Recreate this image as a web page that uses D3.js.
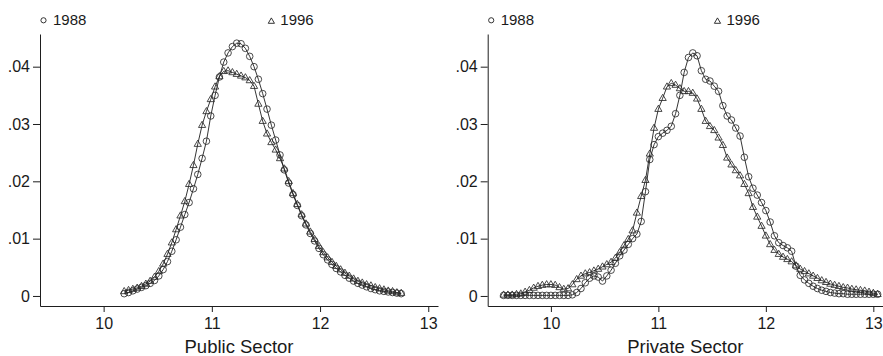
<!DOCTYPE html>
<html><head><meta charset="utf-8">
<script src="https://cdn.jsdelivr.net/npm/d3@7"></script>
<style>
body{margin:0;background:#fff}
svg{display:block}
text{font-family:"Liberation Sans",Arial,Helvetica,sans-serif;fill:#1a1a1a}
</style>
</head><body>
<svg id="chart" width="883" height="356"></svg>
<script>
// ---- data (kernel density of log earnings) ----
const yTickValues = [0, 0.01, 0.02, 0.03, 0.04];
const yTickLabels = ["0", ".01", ".02", ".03", ".04"];
const xTickValues = [10, 11, 12, 13];
const xTickLabels = ["10", "11", "12", "13"];
const seriesNames = ["1988", "1996"];
const panelTitles = ["Public Sector", "Private Sector"];

const publicX = [10.19,10.23,10.27,10.31,10.35,10.39,10.43,10.47,10.51,10.55,10.59,10.63,10.67,10.71,10.75,10.79,10.83,10.87,10.91,10.95,10.99,11.03,11.07,11.11,11.15,11.19,11.23,11.27,11.31,11.35,11.39,11.43,11.47,11.51,11.55,11.59,11.63,11.67,11.71,11.75,11.79,11.83,11.87,11.91,11.95,11.99,12.03,12.07,12.11,12.15,12.19,12.23,12.27,12.31,12.35,12.39,12.43,12.47,12.51,12.55,12.59,12.63,12.67,12.71,12.75];
const public1988 = [.0004,.0006,.0009,.0012,.0015,.0018,.0022,.0027,.0035,.0046,.0060,.0078,.0098,.0120,.0142,.0163,.0187,.0212,.0240,.0270,.0314,.0350,.0382,.0408,.0424,.0435,.0441,.0440,.0432,.0418,.0400,.0378,.0353,.0326,.0298,.0272,.0246,.0220,.0197,.0177,.0158,.0140,.0124,.0109,.0096,.0083,.0072,.0063,.0055,.0048,.0042,.0036,.0031,.0026,.0022,.0019,.0016,.0013,.0011,.0009,.0008,.0007,.0006,.0005,.0004];
const public1996 = [.0008,.0010,.0012,.0014,.0017,.0021,.0026,.0033,.0043,.0056,.0073,.0093,.0116,.0140,.0165,.0195,.0228,.0265,.0298,.0322,.0343,.0365,.0383,.0392,.0393,.0390,.0387,.0384,.0381,.0376,.0366,.0335,.0305,.0283,.0268,.0255,.0240,.0222,.0200,.0179,.0160,.0142,.0126,.0112,.0099,.0087,.0076,.0067,.0059,.0052,.0046,.0040,.0035,.0030,.0026,.0023,.0020,.0018,.0015,.0013,.0011,.0009,.0008,.0006,.0005];

const privateX = [9.56,9.60,9.64,9.68,9.72,9.76,9.80,9.84,9.88,9.92,9.96,10.00,10.04,10.08,10.12,10.16,10.20,10.24,10.28,10.32,10.36,10.40,10.44,10.48,10.52,10.56,10.60,10.64,10.68,10.72,10.76,10.80,10.84,10.88,10.92,10.96,11.00,11.04,11.08,11.12,11.16,11.20,11.24,11.28,11.32,11.36,11.40,11.44,11.48,11.52,11.56,11.60,11.64,11.68,11.72,11.76,11.80,11.84,11.88,11.92,11.96,12.00,12.04,12.08,12.12,12.16,12.20,12.24,12.28,12.32,12.36,12.40,12.44,12.48,12.52,12.56,12.60,12.64,12.68,12.72,12.76,12.80,12.84,12.88,12.92,12.96,13.00,13.04];
const private1988 = [.0001,.0001,.0001,.0001,.0001,.0001,.0001,.0001,.0001,.0001,.0001,.0001,.0001,.0001,.0001,.0001,.0002,.0006,.0013,.0023,.0031,.0035,.0033,.0026,.0035,.0045,.0057,.0070,.0080,.0090,.0100,.0108,.0130,.0182,.0238,.0264,.0278,.0284,.0289,.0296,.0318,.0350,.0390,.0416,.0424,.0419,.0393,.0378,.0375,.0366,.0357,.0332,.0314,.0307,.0293,.0279,.0242,.0208,.0188,.0176,.0163,.0149,.0129,.0105,.0093,.0088,.0084,.0078,.0052,.0036,.0028,.0022,.0017,.0013,.0010,.0008,.0006,.0005,.0004,.0004,.0003,.0003,.0003,.0003,.0003,.0003,.0003,.0003];
const private1996 = [.0002,.0002,.0002,.0003,.0004,.0007,.0010,.0014,.0017,.0019,.0020,.0020,.0019,.0015,.0012,.0013,.0020,.0029,.0035,.0039,.0041,.0044,.0047,.0051,.0055,.0059,.0066,.0076,.0088,.0099,.0114,.0145,.0174,.0202,.0248,.0293,.0326,.0345,.0365,.0371,.0368,.0362,.0357,.0357,.0354,.0344,.0326,.0305,.0296,.0289,.0276,.0263,.0241,.0229,.0219,.0210,.0195,.0179,.0155,.0138,.0122,.0105,.0090,.0080,.0073,.0068,.0064,.0060,.0053,.0047,.0043,.0039,.0035,.0031,.0027,.0024,.0021,.0019,.0017,.0015,.0014,.0012,.0011,.0010,.0009,.0007,.0005,.0003];

// ---- layout ----
const svg = d3.select("#chart");
const ink = "#1e1e1e";
const xDomain = [9.412, 13.09];
const yDomain = [-0.00175, 0.0457];
const yTop = 34, yBottom = 306;

const panels = [
  {title: panelTitles[0], xs: publicX, a: public1988, b: public1996, left: 40, right: 438},
  {title: panelTitles[1], xs: privateX, a: private1988, b: private1996, left: 487.7, right: 883}
];

const triPath = "M0,-3.9L3.6,2.3L-3.6,2.3Z";
const triPathSmall = "M0,-3.4L3.1,2.0L-3.1,2.0Z";

panels.forEach(p => {
  const g = svg.append("g");
  const x = d3.scaleLinear().domain(xDomain).range([p.left, p.right]);
  const y = d3.scaleLinear().domain(yDomain).range([yBottom, yTop]);

  // y axis
  const ya = g.append("g").attr("transform", `translate(${p.left},0)`)
    .call(d3.axisLeft(y).tickValues(yTickValues)
      .tickFormat((d, i) => yTickLabels[i]).tickSizeInner(7).tickSizeOuter(0).tickPadding(3));
  ya.selectAll("path,line").attr("stroke", ink).attr("stroke-width", 1);
  ya.selectAll("text").attr("font-size", 16).attr("fill", ink)
    .style("font-family", '"Liberation Sans",Arial,sans-serif');

  // x axis
  const xa = g.append("g").attr("transform", `translate(0,${yBottom})`)
    .call(d3.axisBottom(x).tickValues(xTickValues)
      .tickFormat((d, i) => xTickLabels[i]).tickSizeInner(6).tickSizeOuter(0).tickPadding(5.5));
  xa.selectAll("path,line").attr("stroke", ink).attr("stroke-width", 1);
  xa.selectAll("text").attr("font-size", 16).attr("fill", ink)
    .style("font-family", '"Liberation Sans",Arial,sans-serif');

  // title
  g.append("text").attr("x", (p.left + p.right) / 2).attr("y", 353)
    .attr("text-anchor", "middle").attr("font-size", 18.5).text(p.title);

  // lines
  const line = d3.line().x(d => x(d[0])).y(d => y(d[1]));
  const dA = p.xs.map((v, i) => [v, p.a[i]]);
  const dB = p.xs.map((v, i) => [v, p.b[i]]);
  [dA, dB].forEach(d => g.append("path").datum(d).attr("d", line)
    .attr("fill", "none").attr("stroke", ink).attr("stroke-width", 0.9));

  // markers
  g.append("g").selectAll("path").data(dB).join("path")
    .attr("transform", d => `translate(${x(d[0])},${y(d[1])})`)
    .attr("d", triPath).attr("fill", "none").attr("stroke", "#2a2a2a").attr("stroke-width", 0.85);
  g.append("g").selectAll("circle").data(dA).join("circle")
    .attr("cx", d => x(d[0])).attr("cy", d => y(d[1])).attr("r", 3.3)
    .attr("fill", "none").attr("stroke", "#2a2a2a").attr("stroke-width", 0.85);

  // legend
  const lx1 = p.left + 3.5, lx2 = x(11.55);
  g.append("circle").attr("cx", lx1).attr("cy", 20.3).attr("r", 2.6)
    .attr("fill", "none").attr("stroke", ink).attr("stroke-width", 0.9);
  g.append("text").attr("x", lx1 + 9.5).attr("y", 24.5).attr("font-size", 15).text(seriesNames[0]);
  g.append("path").attr("transform", `translate(${lx2},21.3)`).attr("d", triPathSmall)
    .attr("fill", "none").attr("stroke", ink).attr("stroke-width", 0.9);
  g.append("text").attr("x", lx2 + 9).attr("y", 24.5).attr("font-size", 15).text(seriesNames[1]);
});
</script>
</body></html>
